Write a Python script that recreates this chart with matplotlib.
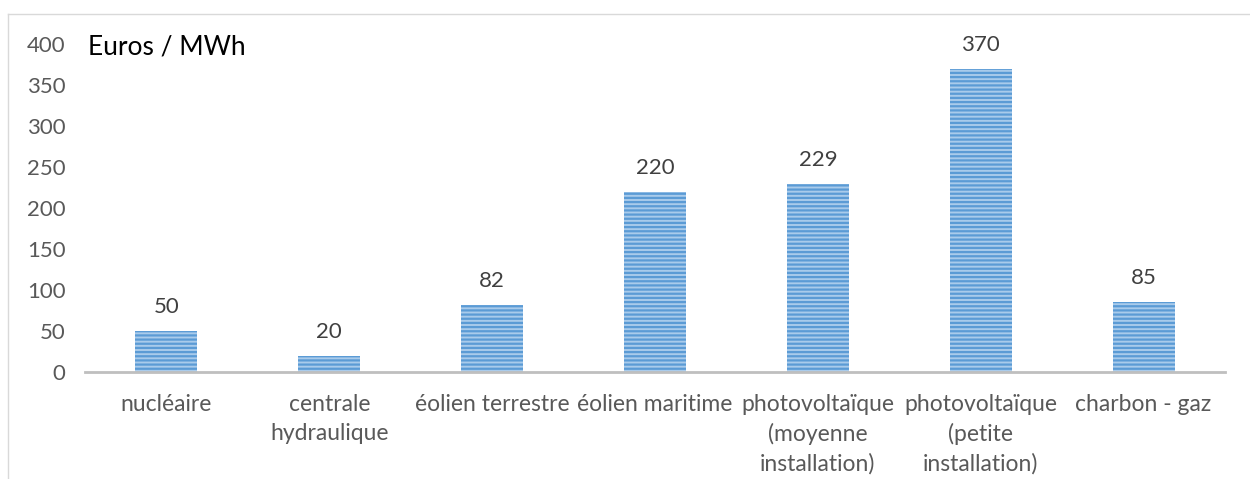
import matplotlib.pyplot as plt
from matplotlib.lines import Line2D

plt.rcParams['font.family'] = ['Lato', 'DejaVu Sans']
plt.rcParams['hatch.color'] = '#5B9BD5'
plt.rcParams['hatch.linewidth'] = 1.6

categories = ['nucléaire', 'centrale\nhydraulique', 'éolien terrestre', 'éolien maritime',
              'photovoltaïque\n(moyenne\ninstallation)', 'photovoltaïque\n(petite\ninstallation)',
              'charbon - gaz']
values = [50, 20, 82, 220, 229, 370, 85]
yticks = [0, 50, 100, 150, 200, 250, 300, 350, 400]

fig = plt.figure(figsize=(12.5, 4.79), dpi=100)
ax = fig.add_axes([0.068, 0.2234, 0.912, 0.6848])

x = range(len(categories))
bars = ax.bar(x, values, width=0.38, color='#A9CBEB', edgecolor='#5B9BD5',
              linewidth=0, hatch='----')

for xi, v in zip(x, values):
    ax.text(xi, v + 17, str(v), ha='center', va='bottom', fontsize=16, color='#404040')

ax.set_xlim(-0.5, len(categories) - 0.5)
ax.set_ylim(0, 400)
ax.set_yticks(yticks)
ax.set_xticks(list(x))
ax.set_xticklabels(categories, fontsize=16.5, color='#595959', linespacing=1.45)
ax.tick_params(axis='y', labelsize=16, labelcolor='#595959', length=0, pad=14)
ax.tick_params(axis='x', length=0, pad=16)
for s in ['top', 'right', 'left']:
    ax.spines[s].set_visible(False)
ax.spines['bottom'].set_color('#BFBFBF')
ax.spines['bottom'].set_linewidth(2)

ax.text(0.003, 0.99, 'Euros / MWh', transform=ax.transAxes, fontsize=19,
        color='black', ha='left', va='center')

# outer frame (top and left edges visible)
fig.add_artist(Line2D([8 / 1250, 1], [1 - 14 / 479, 1 - 14 / 479], color='#D9D9D9', lw=1,
                      transform=fig.transFigure))
fig.add_artist(Line2D([8 / 1250, 8 / 1250], [0, 1 - 14 / 479], color='#D9D9D9', lw=1,
                      transform=fig.transFigure))

fig.savefig('out.png', dpi=100, facecolor='white')
